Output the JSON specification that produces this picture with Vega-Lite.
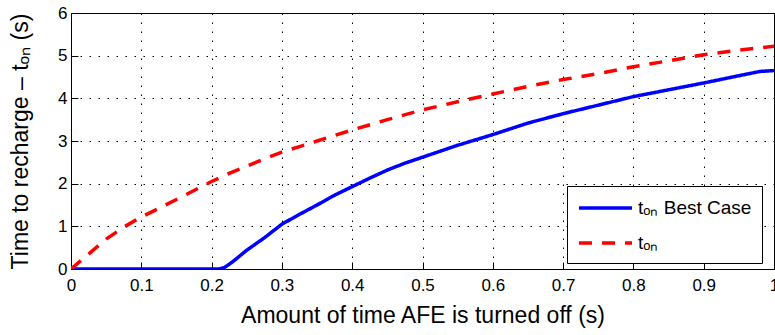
{
  "$schema": "https://vega.github.io/schema/vega-lite/v6.json",
  "width": 703,
  "height": 256,
  "autosize": {"type": "none"},
  "padding": {"left": 71, "top": 13, "right": 1, "bottom": 66},
  "background": "white",
  "config": {"view": {"stroke": "black", "strokeWidth": 1}, "font": "Liberation Sans"},
  "data": {
    "values": [
      {"x": 0, "t": 0, "series": "tₒₙ Best Case"},
      {"x": 0.1, "t": 0, "series": "tₒₙ Best Case"},
      {"x": 0.21, "t": 0, "series": "tₒₙ Best Case"},
      {"x": 0.218, "t": 0.03, "series": "tₒₙ Best Case"},
      {"x": 0.23, "t": 0.17, "series": "tₒₙ Best Case"},
      {"x": 0.25, "t": 0.44, "series": "tₒₙ Best Case"},
      {"x": 0.275, "t": 0.73, "series": "tₒₙ Best Case"},
      {"x": 0.3, "t": 1.05, "series": "tₒₙ Best Case"},
      {"x": 0.325, "t": 1.28, "series": "tₒₙ Best Case"},
      {"x": 0.35, "t": 1.5, "series": "tₒₙ Best Case"},
      {"x": 0.375, "t": 1.73, "series": "tₒₙ Best Case"},
      {"x": 0.4, "t": 1.93, "series": "tₒₙ Best Case"},
      {"x": 0.425, "t": 2.13, "series": "tₒₙ Best Case"},
      {"x": 0.45, "t": 2.32, "series": "tₒₙ Best Case"},
      {"x": 0.475, "t": 2.48, "series": "tₒₙ Best Case"},
      {"x": 0.5, "t": 2.62, "series": "tₒₙ Best Case"},
      {"x": 0.55, "t": 2.9, "series": "tₒₙ Best Case"},
      {"x": 0.6, "t": 3.15, "series": "tₒₙ Best Case"},
      {"x": 0.65, "t": 3.42, "series": "tₒₙ Best Case"},
      {"x": 0.7, "t": 3.64, "series": "tₒₙ Best Case"},
      {"x": 0.75, "t": 3.84, "series": "tₒₙ Best Case"},
      {"x": 0.8, "t": 4.04, "series": "tₒₙ Best Case"},
      {"x": 0.85, "t": 4.2, "series": "tₒₙ Best Case"},
      {"x": 0.9, "t": 4.36, "series": "tₒₙ Best Case"},
      {"x": 0.95, "t": 4.53, "series": "tₒₙ Best Case"},
      {"x": 0.98, "t": 4.63, "series": "tₒₙ Best Case"},
      {"x": 1.0, "t": 4.65, "series": "tₒₙ Best Case"},
      {"x": 0, "t": 0, "series": "tₒₙ"},
      {"x": 0.025, "t": 0.35, "series": "tₒₙ"},
      {"x": 0.05, "t": 0.7, "series": "tₒₙ"},
      {"x": 0.075, "t": 0.98, "series": "tₒₙ"},
      {"x": 0.1, "t": 1.22, "series": "tₒₙ"},
      {"x": 0.125, "t": 1.42, "series": "tₒₙ"},
      {"x": 0.15, "t": 1.63, "series": "tₒₙ"},
      {"x": 0.175, "t": 1.84, "series": "tₒₙ"},
      {"x": 0.2, "t": 2.05, "series": "tₒₙ"},
      {"x": 0.225, "t": 2.24, "series": "tₒₙ"},
      {"x": 0.25, "t": 2.41, "series": "tₒₙ"},
      {"x": 0.275, "t": 2.58, "series": "tₒₙ"},
      {"x": 0.3, "t": 2.74, "series": "tₒₙ"},
      {"x": 0.325, "t": 2.87, "series": "tₒₙ"},
      {"x": 0.35, "t": 3.0, "series": "tₒₙ"},
      {"x": 0.375, "t": 3.13, "series": "tₒₙ"},
      {"x": 0.4, "t": 3.26, "series": "tₒₙ"},
      {"x": 0.45, "t": 3.5, "series": "tₒₙ"},
      {"x": 0.5, "t": 3.73, "series": "tₒₙ"},
      {"x": 0.55, "t": 3.92, "series": "tₒₙ"},
      {"x": 0.6, "t": 4.1, "series": "tₒₙ"},
      {"x": 0.65, "t": 4.28, "series": "tₒₙ"},
      {"x": 0.7, "t": 4.44, "series": "tₒₙ"},
      {"x": 0.75, "t": 4.58, "series": "tₒₙ"},
      {"x": 0.8, "t": 4.74, "series": "tₒₙ"},
      {"x": 0.85, "t": 4.88, "series": "tₒₙ"},
      {"x": 0.9, "t": 5.02, "series": "tₒₙ"},
      {"x": 0.95, "t": 5.13, "series": "tₒₙ"},
      {"x": 1.0, "t": 5.22, "series": "tₒₙ"}
    ]
  },
  "mark": {"type": "line", "strokeWidth": 3.5, "clip": true},
  "encoding": {
    "x": {
      "field": "x", "type": "quantitative",
      "scale": {"domain": [0, 1], "nice": false},
      "axis": {
        "values": [0, 0.1, 0.2, 0.3, 0.4, 0.5, 0.6, 0.7, 0.8, 0.9, 1],
        "format": "~g",
        "title": "Amount of time AFE is turned off (s)",
        "grid": true, "gridDash": [1.5, 7.5], "gridColor": "#000", "gridOpacity": 1, "gridWidth": 1,
        "tickSize": -7, "tickColor": "black", "tickWidth": 1, "domainColor": "black",
        "labelFontSize": 17, "labelColor": "black", "labelPadding": 15, "labelFlush": false,
        "titleFontSize": 23, "titleFontWeight": "normal", "titleColor": "black", "titlePadding": 11
      }
    },
    "y": {
      "field": "t", "type": "quantitative",
      "scale": {"domain": [0, 6], "nice": false},
      "axis": {
        "values": [0, 1, 2, 3, 4, 5, 6],
        "format": "d",
        "title": "Time to recharge – tₒₙ (s)",
        "grid": true, "gridDash": [1.5, 7.5], "gridColor": "#000", "gridOpacity": 1, "gridWidth": 1,
        "tickSize": -7, "tickColor": "black", "tickWidth": 1, "domainColor": "black",
        "labelFontSize": 17, "labelColor": "black", "labelPadding": 11, "labelFlush": false,
        "titleFontSize": 23, "titleFontWeight": "normal", "titleColor": "black", "titlePadding": 25
      }
    },
    "color": {
      "field": "series", "type": "nominal",
      "scale": {"domain": ["tₒₙ Best Case", "tₒₙ"], "range": ["#0000ff", "#ff0000"]},
      "legend": {
        "title": null, "orient": "none", "legendX": 496, "legendY": 173,
        "symbolType": "M-1,0H4.3", "symbolSize": 400, "symbolStrokeWidth": 3.5,
        "labelFontSize": 19, "labelColor": "black", "labelOffset": 37,
        "padding": 10, "rowPadding": 13,
        "strokeColor": "black", "fillColor": "white"
      }
    },
    "strokeDash": {
      "field": "series", "type": "nominal",
      "scale": {"domain": ["tₒₙ Best Case", "tₒₙ"], "range": [[1, 0], [13, 10]]},
      "legend": {
        "title": null, "orient": "none", "legendX": 496, "legendY": 173,
        "symbolType": "M-1,0H4.3", "symbolSize": 400, "symbolStrokeWidth": 3.5,
        "labelFontSize": 19, "labelColor": "black", "labelOffset": 37,
        "padding": 10, "rowPadding": 13,
        "strokeColor": "black", "fillColor": "white"
      }
    }
  }
}
